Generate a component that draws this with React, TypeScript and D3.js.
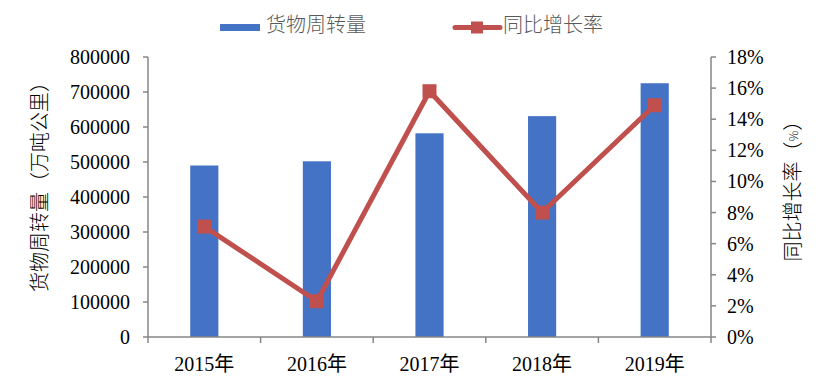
import React from "react";
import * as d3 from "d3";

const categories = ["2015年", "2016年", "2017年", "2018年", "2019年"];
const turnover = [490000, 502000, 582000, 631000, 725000];
const growth = [7.1, 2.3, 15.8, 8.0, 14.9];
const leftTicks = [0, 100000, 200000, 300000, 400000, 500000, 600000, 700000, 800000];
const rightTicks = [0, 2, 4, 6, 8, 10, 12, 14, 16, 18];
const barLabel = "货物周转量";
const lineLabel = "同比增长率";
const leftTitle = "货物周转量（万吨公里）";

const W = 827, H = 384;
const left = 148, right = 711, top = 57, bottom = 337;
const BLUE = "#4472C4", RED = "#C0504D", AXIS = "#868686";
const SERIF = "'Liberation Serif', 'Times New Roman', 'Noto Sans CJK SC', serif";
const CJK = "'Noto Sans CJK SC', 'Noto Sans', sans-serif";

export default function App() {
  const x = d3.scaleBand<string>().domain(categories).range([left, right]).paddingInner(0).paddingOuter(0);
  const yL = d3.scaleLinear().domain([0, 800000]).range([bottom, top]);
  const yR = d3.scaleLinear().domain([0, 18]).range([bottom, top]);
  const bw = x.bandwidth() * 0.25;
  const cx = (c: string) => (x(c) as number) + x.bandwidth() / 2;
  const line = d3.line<number>().x((_, i) => cx(categories[i])).y((d) => yR(d));
  const boundaries = [...categories.map((c) => x(c) as number), right];

  return (
    <svg width={W} height={H} style={{ position: "absolute", left: 0, top: 0, background: "#fff" }}>
      {turnover.map((v, i) => (
        <rect key={i} x={cx(categories[i]) - bw / 2} y={yL(v)} width={bw} height={bottom - yL(v)} fill={BLUE} />
      ))}
      <line x1={left} x2={left} y1={top} y2={bottom} stroke={AXIS} strokeWidth={1.5} />
      <line x1={right} x2={right} y1={top} y2={bottom} stroke={AXIS} strokeWidth={1.5} />
      <line x1={left} x2={right} y1={bottom} y2={bottom} stroke={AXIS} strokeWidth={1.5} />
      {leftTicks.map((t) => (
        <g key={t}>
          <line x1={left - 5} x2={left} y1={yL(t)} y2={yL(t)} stroke={AXIS} strokeWidth={1.5} />
          <text x={left - 18} y={yL(t)} dy="0.35em" textAnchor="end" fontFamily={SERIF} fontSize={20} fill="#000">{t}</text>
        </g>
      ))}
      {rightTicks.map((t) => (
        <g key={t}>
          <line x1={right} x2={right + 5} y1={yR(t)} y2={yR(t)} stroke={AXIS} strokeWidth={1.5} />
          <text x={right + 16} y={yR(t)} dy="0.35em" textAnchor="start" fontFamily={SERIF} fontSize={20} fill="#000">{t}%</text>
        </g>
      ))}
      {boundaries.map((b, i) => (
        <line key={i} x1={b} x2={b} y1={bottom} y2={bottom + 6} stroke={AXIS} strokeWidth={1.5} />
      ))}
      {categories.map((c) => (
        <text key={c} x={cx(c)} y={371} textAnchor="middle" fontFamily={SERIF} fontSize={20} fill="#000">{c}</text>
      ))}
      <path d={line(growth) || ""} fill="none" stroke={RED} strokeWidth={5} strokeLinejoin="round" />
      {growth.map((g, i) => (
        <rect key={i} x={cx(categories[i]) - 7} y={yR(g) - 7} width={14} height={14} fill={RED} />
      ))}
      <text transform="translate(42,182) rotate(-90)" textAnchor="middle" dominantBaseline="middle" fontFamily={CJK} fontWeight={300} fontSize={20} fill="#000">{leftTitle}</text>
      <text transform="translate(795,186) rotate(-90)" textAnchor="middle" dominantBaseline="middle" fontFamily={CJK} fontWeight={300} fontSize={20} fill="#000">
        {lineLabel}（<tspan fontSize={12}>%</tspan>）
      </text>
      <rect x={220} y={24} width={40} height={7} fill={BLUE} />
      <text x={266} y={27} dominantBaseline="middle" fontFamily={CJK} fontWeight={300} fontSize={20} fill="#595959">{barLabel}</text>
      <line x1={455} x2={500} y1={27.5} y2={27.5} stroke={RED} strokeWidth={5} strokeLinecap="round" />
      <rect x={471} y={21.5} width={12} height={12} fill={RED} />
      <text x={503} y={27} dominantBaseline="middle" fontFamily={CJK} fontWeight={300} fontSize={20} fill="#595959">{lineLabel}</text>
    </svg>
  );
}
